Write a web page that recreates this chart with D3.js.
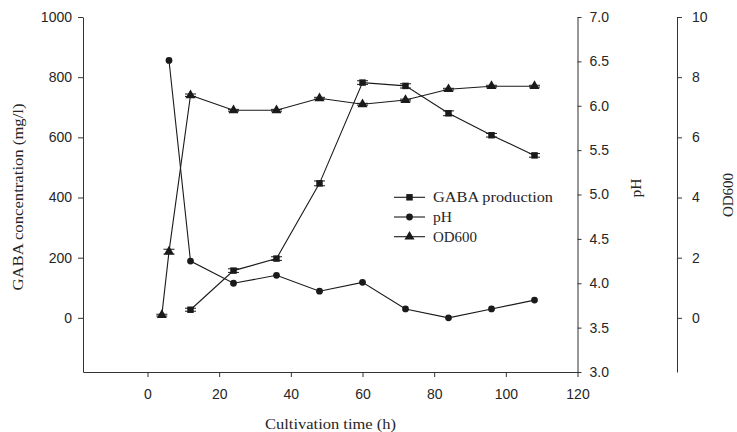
<!DOCTYPE html>
<html>
<head>
<meta charset="utf-8">
<script src="https://cdn.jsdelivr.net/npm/d3@7"></script>
<style>
  html, body { margin: 0; padding: 0; background: #fff; }
  svg { display: block; }
  .tick text { font-family: "Liberation Sans", Arial, sans-serif; font-size: 14px; fill: #262626; }
  .domain, .tick line { stroke: #333; stroke-width: 1; }
  .title { font-family: "Liberation Serif", "DejaVu Serif", serif; font-size: 15px; fill: #262626; }
</style>
</head>
<body>
<svg id="chart" width="737" height="432"></svg>
<script>
// Cultivation time points (h) for each measured series
const gabaTime = [12, 24, 36, 48, 60, 72, 84, 96, 108];
const gabaValues = [27, 157, 197, 447, 782, 771, 680, 607, 540];   // mg/l
const gabaErr = [5, 6, 6, 8, 6, 7, 8, 6, 6];

const phTime = [6, 12, 24, 36, 48, 60, 72, 84, 96, 108];
const phValues = [6.51, 4.25, 4.0, 4.09, 3.91, 4.01, 3.71, 3.61, 3.71, 3.81];

const odTime = [4, 6, 12, 24, 36, 48, 60, 72, 84, 96, 108];
const odValues = [0.09, 2.2, 7.4, 6.9, 6.9, 7.3, 7.1, 7.24, 7.6, 7.7, 7.7];
const odErr = [0.03, 0.08, 0.04, 0.03, 0.03, 0.03, 0.03, 0.03, 0.03, 0.03, 0.03];

const xTicks = [0, 20, 40, 60, 80, 100, 120];
const gabaTicks = [0, 200, 400, 600, 800, 1000];
const phTicks = [3.0, 3.5, 4.0, 4.5, 5.0, 5.5, 6.0, 6.5, 7.0];
const odTicks = [0, 2, 4, 6, 8, 10];

const legendLabels = ["GABA production", "pH", "OD600"];

const svg = d3.select("#chart");
const plotTop = 17, plotBottom = 372, plotLeft = 83, plotRight = 577.5, odAxisX = 677;

const x = d3.scaleLinear().domain([-18, 120]).range([plotLeft, plotRight]);
const yG = d3.scaleLinear().domain([-180, 1000]).range([plotBottom, plotTop]);
const yPH = d3.scaleLinear().domain([3, 7]).range([plotBottom, plotTop]);
const yOD = d3.scaleLinear().domain([-1.8, 10]).range([plotBottom, plotTop]);

// Axes
svg.append("g").attr("transform", `translate(0,${plotBottom})`)
  .call(d3.axisBottom(x).tickValues(xTicks).tickFormat(d3.format("d")).tickSize(5).tickPadding(12.5).tickSizeOuter(0));
svg.append("g").attr("transform", `translate(${plotLeft},0)`)
  .call(d3.axisLeft(yG).tickValues(gabaTicks).tickFormat(d3.format("d")).tickSize(5).tickPadding(6).tickSizeOuter(0));
svg.append("g").attr("transform", `translate(${plotRight},0)`)
  .call(d3.axisRight(yPH).tickValues(phTicks).tickFormat(d3.format(".1f")).tickSize(4).tickPadding(8).tickSizeOuter(0));
svg.append("g").attr("transform", `translate(${odAxisX},0)`)
  .call(d3.axisRight(yOD).tickValues(odTicks).tickFormat(d3.format("d")).tickSize(5).tickPadding(10).tickSizeOuter(0));

// Axis titles (serif, widened to the book-face proportions)
function title(txt, len, transform) {
  svg.append("text").attr("class", "title")
    .attr("transform", transform)
    .attr("text-anchor", "middle")
    .attr("textLength", len).attr("lengthAdjust", "spacingAndGlyphs")
    .text(txt);
}
title("GABA concentration (mg/l)", 187, "translate(23,197) rotate(-90)");
title("pH", 19, "translate(641,188) rotate(-90)");
title("OD600", 44, "translate(733,195) rotate(-90)");
title("Cultivation time (h)", 131, "translate(330.5,429)");

const ink = "#1a1a1a";
const plot = svg.append("g");

function drawLine(xs, ys, yScale) {
  const pts = xs.map((t, i) => [x(t), yScale(ys[i])]);
  plot.append("path").attr("d", d3.line()(pts))
    .attr("fill", "none").attr("stroke", ink).attr("stroke-width", 1.1);
  return pts;
}

function drawErr(xs, ys, es, yScale) {
  xs.forEach((t, i) => {
    const cx = x(t), y1 = yScale(ys[i] - es[i]), y2 = yScale(ys[i] + es[i]);
    const g = plot.append("g").attr("stroke", ink).attr("stroke-width", 1);
    g.append("line").attr("x1", cx).attr("x2", cx).attr("y1", y1).attr("y2", y2);
    g.append("line").attr("x1", cx - 5.5).attr("x2", cx + 5.5).attr("y1", y1).attr("y2", y1);
    g.append("line").attr("x1", cx - 5.5).attr("x2", cx + 5.5).attr("y1", y2).attr("y2", y2);
  });
}

const sym = {
  square: d3.symbol().type(d3.symbolSquare).size(42),
  circle: d3.symbol().type(d3.symbolCircle).size(36),
  triangle: d3.symbol().type(d3.symbolTriangle).size(44)
};

function drawMarkers(pts, gen) {
  plot.selectAll(null).data(pts).enter().append("path")
    .attr("d", gen).attr("transform", d => `translate(${d[0]},${d[1]})`)
    .attr("fill", ink);
}

// GABA production
const gPts = drawLine(gabaTime, gabaValues, yG);
drawErr(gabaTime, gabaValues, gabaErr, yG);
drawMarkers(gPts, sym.square);

// pH
const pPts = drawLine(phTime, phValues, yPH);
drawMarkers(pPts, sym.circle);

// OD600
const oPts = drawLine(odTime, odValues, yOD);
drawErr(odTime, odValues, odErr, yOD);
drawMarkers(oPts, sym.triangle);

// Legend
const legendSyms = [sym.square, sym.circle, sym.triangle];
const legendLens = [120, 19, 44];
const legend = svg.append("g");
legendLabels.forEach((lab, i) => {
  const ly = 197.3 + i * 19.7;
  legend.append("line").attr("x1", 394).attr("x2", 425).attr("y1", ly).attr("y2", ly)
    .attr("stroke", ink).attr("stroke-width", 1.1);
  legend.append("path").attr("d", legendSyms[i]).attr("transform", `translate(409.5,${ly})`).attr("fill", ink);
  legend.append("text").attr("class", "title").attr("x", 433).attr("y", ly + 5)
    .attr("textLength", legendLens[i]).attr("lengthAdjust", "spacingAndGlyphs").text(lab);
});
</script>
</body>
</html>
